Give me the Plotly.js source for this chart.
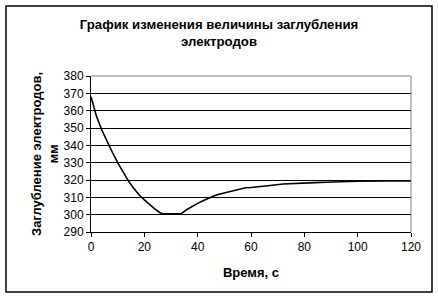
<!DOCTYPE html>
<html>
<head>
<meta charset="utf-8">
<script src="https://cdn.plot.ly/plotly-3.0.1.min.js"></script>
<style>html,body{margin:0;padding:0;background:#fff;}</style>
</head>
<body>
<div id="chart" style="width:438px;height:299px;"></div>
<script>
const timeS = [0, 2, 4, 6, 8, 10, 12, 14, 16, 18, 20, 22, 24, 26, 27, 28, 30, 32, 34, 36, 38, 40, 42, 44, 46, 48, 50, 52, 54, 56, 58, 60, 64, 68, 72, 76, 80, 84, 88, 92, 96, 100, 110, 120];
const depthMm = [368, 357, 349, 342, 336, 330, 324.5, 319.5, 315.2, 311.5, 308.5, 305.8, 303.2, 301, 300.5, 300.5, 300.5, 300.5, 300.7, 303, 305, 306.5, 308, 309.5, 310.8, 311.8, 312.5, 313.3, 314, 314.8, 315.5, 315.7, 316.2, 317, 317.7, 318.1, 318.3, 318.5, 318.7, 318.9, 319.2, 319.3, 319.4, 319.4];
const chartTitle = 'График изменения величины заглубления<br>электродов';
const xTitle = 'Время, с';
const yTitle = 'Заглубление электродов,<br>мм';

const font = 'Liberation Sans, Arial, sans-serif';
const trace = {
  x: timeS, y: depthMm, type: 'scatter', mode: 'lines',
  line: {color: '#000', width: 1.6}, hoverinfo: 'skip'
};
const layout = {
  width: 438, height: 299,
  margin: {l: 91, r: 27, t: 76, b: 67},
  paper_bgcolor: '#fff', plot_bgcolor: '#fff',
  showlegend: false,
  font: {family: font, size: 12, color: '#000'},
  title: {text: '<b>' + chartTitle + '</b>', font: {family: font, size: 13.2, color: '#000'},
          x: 0.5, xanchor: 'center', y: 0.903, yanchor: 'top'},
  xaxis: {
    range: [0, 120], dtick: 20, tick0: 0, showgrid: false, zeroline: false,
    showline: true, linecolor: '#000', linewidth: 1,
    ticks: 'outside', ticklen: 4, tickcolor: '#000',
    tickfont: {family: font, size: 12},
    title: {text: '<b>' + xTitle + '</b>', font: {family: font, size: 13}, standoff: 14}
  },
  yaxis: {
    range: [290, 380], dtick: 10, tick0: 290, showgrid: true, gridcolor: '#000', gridwidth: 1,
    zeroline: false, showline: true, linecolor: '#000', linewidth: 1,
    ticks: 'outside', ticklen: 4, tickcolor: '#000',
    tickfont: {family: font, size: 12},
    title: {text: '<b>' + yTitle + '</b>', font: {family: font, size: 13}, standoff: 2}
  },
  shapes: [
    {type: 'rect', xref: 'paper', yref: 'paper', x0: -0.2656, x1: 1.0656, y0: -0.3846, y1: 1.4487,
     line: {color: '#000', width: 1.5}, layer: 'below'},
    {type: 'line', xref: 'paper', yref: 'paper', x0: 0, x1: 1, y0: 1, y1: 1, line: {color: '#808080', width: 1}},
    {type: 'line', xref: 'paper', yref: 'paper', x0: 1, x1: 1, y0: 0, y1: 1, line: {color: '#808080', width: 1}}
  ]
};
Plotly.newPlot('chart', [trace], layout, {staticPlot: true, displayModeBar: false});
</script>
</body>
</html>
